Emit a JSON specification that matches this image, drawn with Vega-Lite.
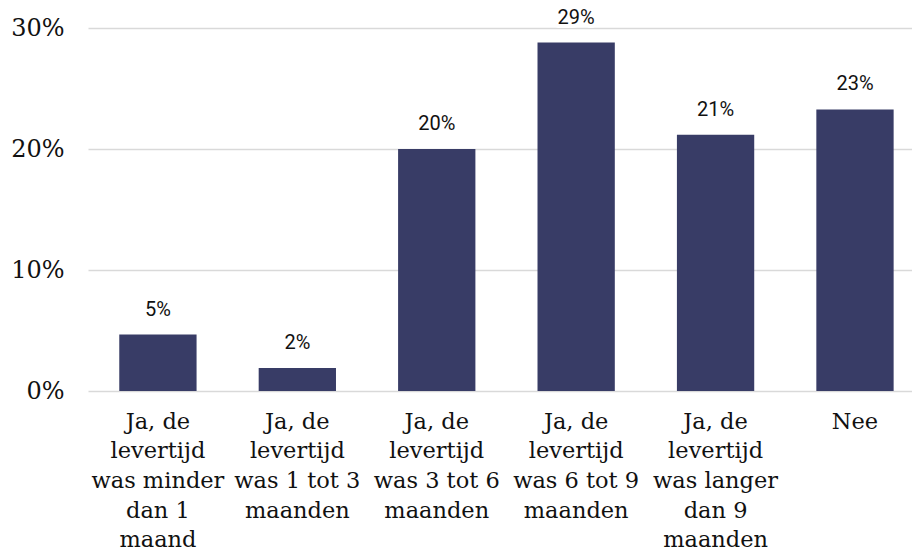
{
  "$schema": "https://vega.github.io/schema/vega-lite/v6.json",
  "autosize": {"type": "none"},
  "padding": {"left": 88, "top": 28, "right": 0, "bottom": 164},
  "width": 824,
  "height": 363,
  "background": "white",
  "config": {"view": {"stroke": null}},
  "data": {
    "values": [
      {"antwoord": "Ja, de levertijd was minder dan 1 maand", "aandeel": 0.0466},
      {"antwoord": "Ja, de levertijd was 1 tot 3 maanden", "aandeel": 0.019},
      {"antwoord": "Ja, de levertijd was 3 tot 6 maanden", "aandeel": 0.2},
      {"antwoord": "Ja, de levertijd was 6 tot 9 maanden", "aandeel": 0.288},
      {"antwoord": "Ja, de levertijd was langer dan 9 maanden", "aandeel": 0.2117},
      {"antwoord": "Nee", "aandeel": 0.2327}
    ]
  },
  "encoding": {
    "x": {
      "field": "antwoord",
      "type": "nominal",
      "sort": null,
      "scale": {"paddingInner": 0.4455, "paddingOuter": 0.178, "align": 0.63},
      "axis": {
        "title": null,
        "labelAngle": 0,
        "domain": false,
        "ticks": false,
        "labelFont": "DejaVu Serif",
        "labelFontSize": 22.5,
        "labelColor": "#111111",
        "labelLineHeight": 29.7,
        "labelPadding": 19,
        "labelLimit": 0,
        "labelBaseline": "top",
        "labelExpr": "({'Ja, de levertijd was minder dan 1 maand': ['Ja, de', 'levertijd', 'was minder', 'dan 1', 'maand'], 'Ja, de levertijd was 1 tot 3 maanden': ['Ja, de', 'levertijd', 'was 1 tot 3', 'maanden'], 'Ja, de levertijd was 3 tot 6 maanden': ['Ja, de', 'levertijd', 'was 3 tot 6', 'maanden'], 'Ja, de levertijd was 6 tot 9 maanden': ['Ja, de', 'levertijd', 'was 6 tot 9', 'maanden'], 'Ja, de levertijd was langer dan 9 maanden': ['Ja, de', 'levertijd', 'was langer', 'dan 9', 'maanden'], 'Nee': ['Nee']})[datum.value]"
      }
    },
    "y": {
      "field": "aandeel",
      "type": "quantitative",
      "scale": {"domain": [0, 0.3], "nice": false},
      "axis": {
        "title": null,
        "format": ".0%",
        "values": [0, 0.1, 0.2, 0.3],
        "domain": false,
        "ticks": false,
        "labelFont": "DejaVu Serif",
        "labelFontSize": 24,
        "labelColor": "#111111",
        "labelPadding": 24,
        "gridColor": "#d9d9d9",
        "gridWidth": 1.5
      }
    }
  },
  "layer": [
    {"mark": {"type": "bar", "color": "#383c66"}},
    {
      "mark": {"type": "text", "baseline": "bottom", "dy": -15, "font": "Roboto", "fontSize": 20, "stroke": "white", "strokeWidth": 8, "strokeJoin": "round"},
      "encoding": {"text": {"field": "aandeel", "type": "quantitative", "format": ".0%"}}
    },
    {
      "mark": {"type": "text", "baseline": "bottom", "dy": -15, "font": "Roboto", "fontSize": 20, "color": "#111111"},
      "encoding": {"text": {"field": "aandeel", "type": "quantitative", "format": ".0%"}}
    }
  ]
}
